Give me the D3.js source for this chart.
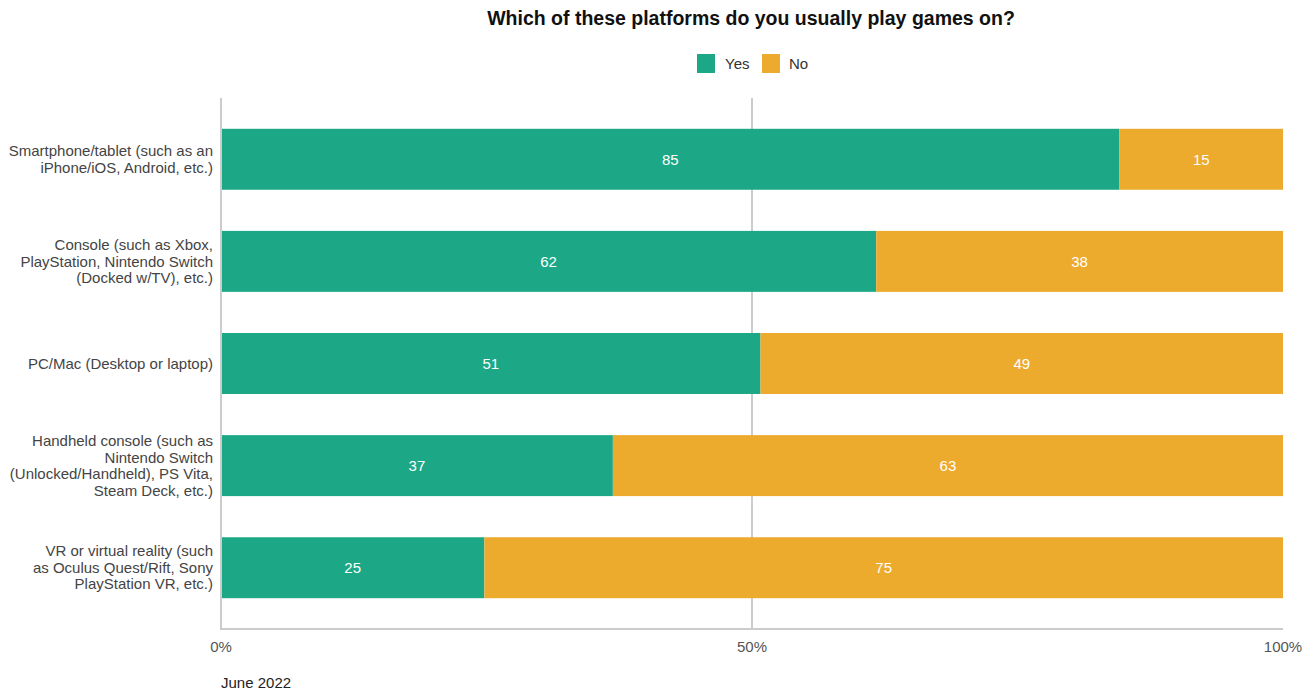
<!DOCTYPE html>
<html><head><meta charset="utf-8">
<script src="https://cdn.jsdelivr.net/npm/d3@7"></script>
<style>body{margin:0;background:#fff;} text{font-family:"Liberation Sans",Arial,sans-serif;}</style>
</head><body>
<svg id="c" width="1315" height="694"></svg>
<script>
const categories = [
  ["Smartphone/tablet (such as an", "iPhone/iOS, Android, etc.)"],
  ["Console (such as Xbox,", "PlayStation, Nintendo Switch", "(Docked w/TV), etc.)"],
  ["PC/Mac (Desktop or laptop)"],
  ["Handheld console (such as", "Nintendo Switch", "(Unlocked/Handheld), PS Vita,", "Steam Deck, etc.)"],
  ["VR or virtual reality (such", "as Oculus Quest/Rift, Sony", "PlayStation VR, etc.)"]
];
const yesValues = [84.6, 61.7, 50.8, 36.9, 24.8];
const noValues = [15.4, 38.3, 49.2, 63.1, 75.2];
const seriesNames = ["Yes", "No"];
const seriesColors = ["#1ca886", "#edab2e"];
const tickValues = [0, 50, 100];
const tickLabels = ["0%", "50%", "100%"];
const title = "Which of these platforms do you usually play games on?";
const footnote = "June 2022";

(function () {
const svg = d3.select("#c");
const pL = 221, pR = 1283, pT = 98, pB = 629;
const fmt = d3.format(".0f");
const x = d3.scaleLinear().domain([0, 100]).range([pL, pR]);
const y = d3.scaleBand().domain(d3.range(categories.length)).range([pT, pB]).paddingInner(0.403).paddingOuter(0.3015);

// gridline at 50%
svg.append("line").attr("x1", x(50)).attr("x2", x(50)).attr("y1", pT).attr("y2", pB)
  .attr("stroke", "#cccccc").attr("stroke-width", 2);

const rows = categories.map((c, i) => ({i, yes: yesValues[i], no: noValues[i]}));
const g = svg.append("g");
rows.forEach(r => {
  const segs = [{v: r.yes, x0: 0, c: seriesColors[0]}, {v: r.no, x0: r.yes, c: seriesColors[1]}];
  segs.forEach(s => {
    g.append("rect").attr("x", x(s.x0)).attr("y", y(r.i)).attr("width", x(s.x0 + s.v) - x(s.x0))
      .attr("height", y.bandwidth()).attr("fill", s.c);
    g.append("text").attr("x", x(s.x0 + s.v / 2)).attr("y", y(r.i) + y.bandwidth() / 2)
      .attr("dy", "0.35em").attr("text-anchor", "middle").attr("fill", "#fff")
      .attr("font-size", 15).text(fmt(s.v));
  });
});

// axes lines
svg.append("line").attr("x1", pL).attr("x2", pL).attr("y1", pT).attr("y2", pB + 1)
  .attr("stroke", "#cccccc").attr("stroke-width", 2);
svg.append("line").attr("x1", pL).attr("x2", pR).attr("y1", pB).attr("y2", pB)
  .attr("stroke", "#cccccc").attr("stroke-width", 2);

// x tick labels
tickValues.forEach((t, i) => {
  svg.append("text").attr("x", x(t)).attr("y", 652).attr("text-anchor", "middle")
    .attr("fill", "#555").attr("font-size", 15).text(tickLabels[i]);
});

// category labels
categories.forEach((lines, i) => {
  const cy = y(i) + y.bandwidth() / 2;
  const lh = 16.5;
  const t = svg.append("text").attr("text-anchor", "end").attr("fill", "#444").attr("font-size", 15);
  lines.forEach((l, k) => {
    t.append("tspan").attr("x", 213).attr("y", cy + (k - (lines.length - 1) / 2) * lh).attr("dy", "0.35em").text(l);
  });
});

// title
svg.append("text").attr("x", 751).attr("y", 25).attr("text-anchor", "middle")
  .attr("font-weight", "bold").attr("font-size", 19.5).attr("fill", "#111").text(title);

// legend
const leg = [{x: 697, tx: 725}, {x: 762, tx: 789}];
seriesNames.forEach((n, i) => {
  svg.append("rect").attr("x", leg[i].x).attr("y", 54).attr("width", 18).attr("height", 19).attr("fill", seriesColors[i]);
  svg.append("text").attr("x", leg[i].tx).attr("y", 63.5).attr("dy", "0.35em").attr("font-size", 15)
    .attr("fill", "#333").text(n);
});

// footnote
svg.append("text").attr("x", 221).attr("y", 688).attr("font-size", 15).attr("fill", "#222").text(footnote);
})();
</script>
</body></html>
